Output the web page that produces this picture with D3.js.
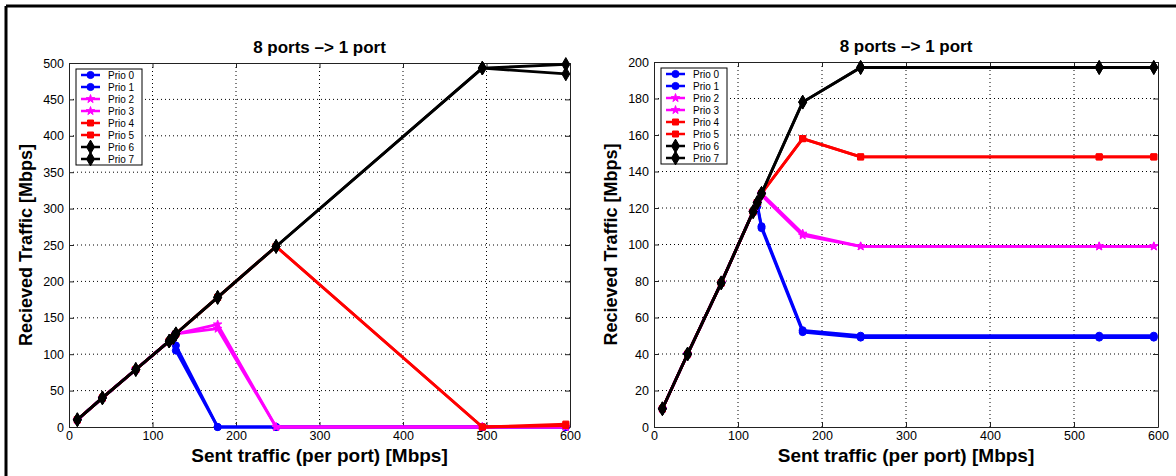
<!DOCTYPE html>
<html>
<head>
<meta charset="utf-8">
<script src="https://cdn.jsdelivr.net/npm/d3@7"></script>
<style>
  body { margin: 0; background: #fff; }
  text { font-family: "Liberation Sans", Arial, Helvetica, sans-serif; }
</style>
</head>
<body>
<div id="chart"></div>
<script>
// series names and colours
var prios = ["Prio 0", "Prio 1", "Prio 2", "Prio 3", "Prio 4", "Prio 5", "Prio 6", "Prio 7"];
var colors = ["#0000ff", "#0000ff", "#ff00ff", "#ff00ff", "#ff0000", "#ff0000", "#000000", "#000000"];

// left panel: sent traffic (x) and received traffic per priority
var sentLeft = [10, 40, 80, 120, 125, 128, 178, 248, 495, 595];
var recvLeft = [
  [10, 40, 79, 118, 123, 105, 0, 0, 0, 0],
  [10, 40, 79, 118, 123, 112, 0, 0, 0, 0],
  [10, 40, 79, 118, 123, 128, 135, 0, 0, 0],
  [10, 40, 79, 118, 123, 128, 141, 0, 0, 0],
  [10, 40, 79, 118, 123, 128, 178, 248, 0, 2],
  [10, 40, 79, 118, 123, 128, 178, 248, 0, 4],
  [10, 40, 79, 118, 123, 128, 178, 248, 493, 498],
  [10, 40, 79, 118, 123, 128, 178, 248, 493, 485]
];

// right panel
var sentRight = [10, 40, 80, 118, 123, 128, 177, 246, 530, 595];
var recvRight = [
  [10, 40, 79, 118, 121, 109, 52, 49, 49, 49],
  [10, 40, 79, 118, 122, 110, 53, 50, 50, 50],
  [10, 40, 79, 118, 123, 127, 105, 99, 99, 99],
  [10, 40, 79, 118, 123, 128, 106, 99, 99, 99],
  [10, 40, 79, 118, 123, 128, 158, 148, 148, 148],
  [10, 40, 79, 118, 123, 128, 158, 148, 148, 148],
  [10, 40, 79, 118, 123, 128, 178, 197, 197, 197],
  [10, 40, 79, 118, 123, 128, 178, 197, 197, 197]
];

var xTicks = [0, 100, 200, 300, 400, 500, 600];
var yTicksLeft = [0, 50, 100, 150, 200, 250, 300, 350, 400, 450, 500];
var yTicksRight = [0, 20, 40, 60, 80, 100, 120, 140, 160, 180, 200];

var titleText = "8 ports \u2013> 1 port";
var xLabel = "Sent traffic (per port) [Mbps]";
var yLabel = "Recieved Traffic [Mbps]";

var symbols = [d3.symbolCircle, d3.symbolCircle, d3.symbolStar, d3.symbolStar,
               d3.symbolSquare, d3.symbolSquare, d3.symbolDiamond, d3.symbolDiamond];
var symSize = [40, 40, 22, 22, 36, 36, 55, 55];

var svg = d3.select("#chart")
  .append("svg")
    .attr("width", 1176)
    .attr("height", 476);

// outer frame (only top and left are visible)
svg.append("line").attr("x1", 6).attr("y1", 6).attr("x2", 1176).attr("y2", 6)
  .attr("stroke", "#000").attr("stroke-width", 3);
svg.append("line").attr("x1", 6).attr("y1", 6).attr("x2", 6).attr("y2", 476)
  .attr("stroke", "#000").attr("stroke-width", 3);

function drawPanel(left, right, top, bottom, sent, recv, yMax, yTicks) {
  var w = right - left, h = bottom - top;
  var g = svg.append("g").attr("transform", "translate(" + left + "," + top + ")");

  var x = d3.scaleLinear().domain([0, 600]).range([0, w]);
  var y = d3.scaleLinear().domain([0, yMax]).range([h, 0]);

  // dotted grid
  g.append("g")
    .selectAll("line")
    .data(xTicks.slice(1, -1))
    .enter().append("line")
      .attr("x1", function(d) { return x(d); }).attr("x2", function(d) { return x(d); })
      .attr("y1", 0).attr("y2", h)
      .attr("stroke", "#000").attr("stroke-width", 1)
      .attr("stroke-dasharray", "1,3");
  g.append("g")
    .selectAll("line")
    .data(yTicks.slice(1, -1))
    .enter().append("line")
      .attr("x1", 0).attr("x2", w)
      .attr("y1", function(d) { return y(d); }).attr("y2", function(d) { return y(d); })
      .attr("stroke", "#000").attr("stroke-width", 1)
      .attr("stroke-dasharray", "1,3");

  // axes, ticks pointing inward
  g.append("g").attr("transform", "translate(0," + h + ")")
    .call(d3.axisBottom(x).tickValues(xTicks).tickSizeInner(-5).tickSizeOuter(0).tickPadding(4));
  g.append("g")
    .call(d3.axisLeft(y).tickValues(yTicks).tickSizeInner(-5).tickSizeOuter(0).tickPadding(5));
  g.append("g")
    .call(d3.axisTop(x).tickValues(xTicks).tickSizeInner(-5).tickSizeOuter(0).tickFormat(""));
  g.append("g").attr("transform", "translate(" + w + ",0)")
    .call(d3.axisRight(y).tickValues(yTicks).tickSizeInner(-5).tickSizeOuter(0).tickFormat(""));
  g.selectAll(".domain").attr("stroke", "#222");
  g.selectAll(".tick line").attr("stroke", "#222");
  g.selectAll(".tick text")
    .style("font-family", "'Liberation Sans', Arial, sans-serif")
    .style("font-size", "12.5px")
    .attr("fill", "#000");

  // data lines
  var line = d3.line()
    .x(function(d) { return x(d[0]); })
    .y(function(d) { return y(d[1]); });

  recv.forEach(function(vals, i) {
    var pts = sent.map(function(s, j) { return [s, vals[j]]; });
    g.append("path")
      .datum(pts)
      .attr("fill", "none")
      .attr("stroke", colors[i])
      .attr("stroke-width", 2.8)
      .attr("stroke-linejoin", "round")
      .attr("d", line);
    g.selectAll(".m" + i)
      .data(pts)
      .enter().append("path")
        .attr("transform", function(d) { return "translate(" + x(d[0]) + "," + y(d[1]) + ")"; })
        .attr("d", d3.symbol().type(symbols[i]).size(symSize[i]))
        .attr("fill", colors[i])
        .attr("stroke", colors[i]);
  });

  // legend
  var lg = g.append("g").attr("transform", "translate(7,6)");
  lg.append("rect")
    .attr("x", 0).attr("y", 0)
    .attr("width", 66).attr("height", 96)
    .attr("fill", "#fff").attr("stroke", "#000").attr("stroke-width", 1);
  prios.forEach(function(p, i) {
    var yy = 6 + i * 12;
    lg.append("line")
      .attr("x1", 5).attr("x2", 24).attr("y1", yy).attr("y2", yy)
      .attr("stroke", colors[i]).attr("stroke-width", 2.5);
    lg.append("path")
      .attr("transform", "translate(14.5," + yy + ")")
      .attr("d", d3.symbol().type(symbols[i]).size(symSize[i]))
      .attr("fill", colors[i]).attr("stroke", colors[i]);
    lg.append("text")
      .attr("x", 32).attr("y", yy + 3.5)
      .style("font-size", "10px")
      .text(p);
  });

  // title and axis labels
  svg.append("text")
    .attr("x", left + w / 2).attr("y", top - 10)
    .attr("text-anchor", "middle")
    .style("font-size", "17px").style("font-weight", "bold")
    .text(titleText);
  svg.append("text")
    .attr("x", left + w / 2).attr("y", bottom + 35)
    .attr("text-anchor", "middle")
    .style("font-size", "19px").style("font-weight", "bold")
    .text(xLabel);
  svg.append("text")
    .attr("transform", "translate(" + (left - 37) + "," + (top + h / 2) + ")rotate(-90)")
    .attr("text-anchor", "middle")
    .style("font-size", "18px").style("font-weight", "bold")
    .text(yLabel);
}

drawPanel(69, 570, 63, 427, sentLeft, recvLeft, 500, yTicksLeft);
drawPanel(654, 1158, 62, 427, sentRight, recvRight, 200, yTicksRight);
</script>
</body>
</html>
